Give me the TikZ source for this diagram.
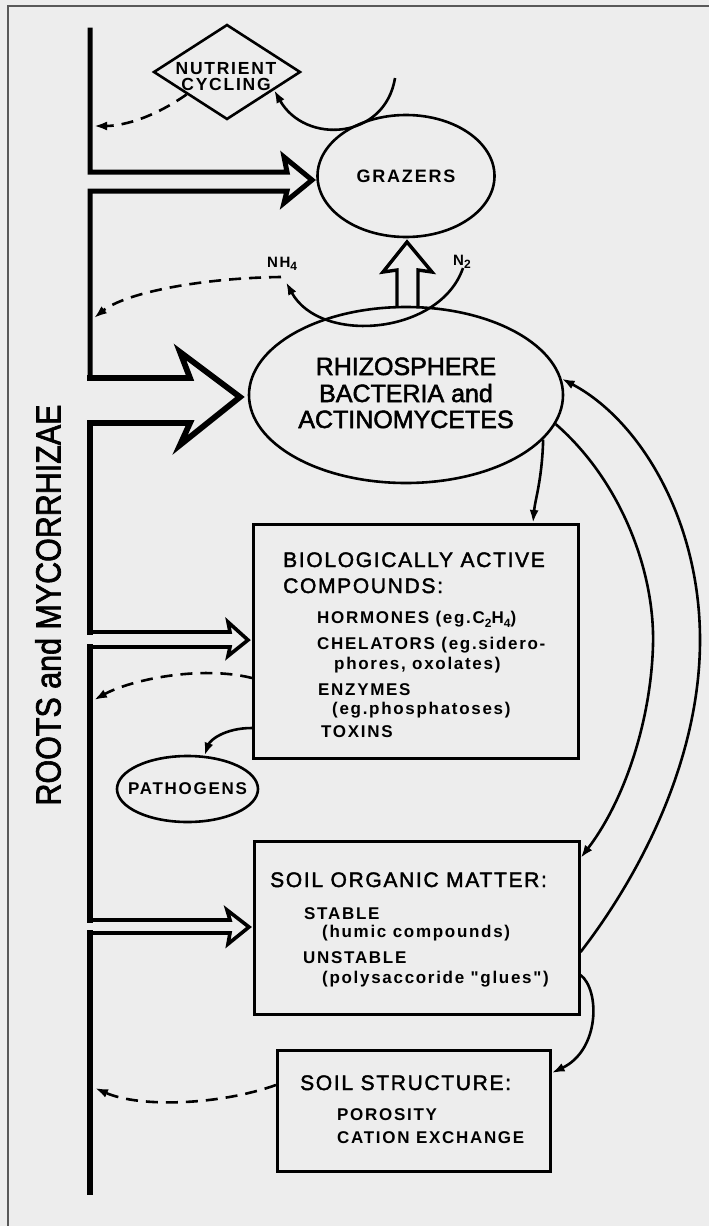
\documentclass[tikz,border=0pt]{standalone}
\usepackage{graphicx}
\usepackage{fontspec}
\setmainfont{Liberation Sans}
\newfontfamily\hfont[LetterSpace=8,FakeBold=2]{Liberation Sans}
\newfontfamily\bfont[FakeBold=2]{Liberation Sans}
\newfontfamily\sfont[LetterSpace=10]{Liberation Sans}
\usetikzlibrary{shapes.geometric,arrows.meta,calc}
\newcommand\lsub[1]{\raisebox{-0.45ex}{\fontsize{12}{12}\selectfont #1}}
\newcommand\smf[1]{\sfont\bfseries\fontsize{#1}{#1}\selectfont}
\begin{document}
\begin{tikzpicture}[x=1pt,y=-1pt,
  ink/.style={draw=black, line width=2.6pt},
  boxnode/.style={ink, rectangle, inner sep=0pt, anchor=north west},
  ellnode/.style={ink, ellipse, inner sep=0pt},
  hd/.style={inner sep=0pt, anchor=base west, font=\hfont\fontsize{21}{21}\selectfont},
  sm/.style={inner sep=0pt, anchor=base west, font=\smf{17}},
  big/.style={inner sep=0pt, anchor=base, font=\bfont\fontsize{25}{25}\selectfont},
  conn/.style={draw=black, line width=2.6pt, -{Latex[length=13pt,width=9pt]}},
  dashconn/.style={conn, dash pattern=on 12pt off 8pt},
  stemline/.style={draw=black, line width=5.5pt, line join=miter, line cap=rect},
  thinarrow/.style={draw=black, line width=3.6pt, line join=miter}
]
\useasboundingbox (0,0) rectangle (709,1226);
\fill[black!7] (0,0) rectangle (709,1226);
\draw[black!65, line width=1.5pt] (8,1226) -- (8,6) -- (709,6);

% ---- nodes ----
\node[ink, diamond, inner sep=0pt, minimum width=147pt, minimum height=95pt] (nc) at (227,72) {};
\node[inner sep=0pt, anchor=base, font=\smf{17.5}] (nct1) at (226,74) {NUTRIENT};
\node[inner sep=0pt, anchor=base, font=\smf{17.5}] (nct2) at (226,90) {CYCLING};

\node[ellnode, minimum width=177pt, minimum height=122pt] (gr) at (406,176) {};
\node[inner sep=0pt, font=\smf{18}] (grt) at (406,176) {GRAZERS};

\node[ellnode, minimum width=314pt, minimum height=176pt] (rh) at (406,395) {};
\node[big] (rht1) at (406,375) {RHIZOSPHERE};
\node[big] (rht2) at (406,402) {BACTERIA and};
\node[big] (rht3) at (406,428) {ACTINOMYCETES};

\node[inner sep=0pt, anchor=base west, font=\smf{15}] (nh4l) at (267,267) {NH\lsub{4}};
\node[inner sep=0pt, anchor=base west, font=\smf{15}] (n2l) at (453,265) {N\lsub{2}};

\node[boxnode, minimum width=325pt, minimum height=234pt] (bac) at (252,523) {};
\node[hd] (b1) at (283,567) {BIOLOGICALLY ACTIVE};
\node[hd] (b2) at (283,593) {COMPOUNDS:};
\node[sm] (b3) at (317,623) {HORMONES (eg.C\lsub{2}H\lsub{4})};
\node[sm] (b4) at (317,649) {CHELATORS (eg.sidero-};
\node[sm] (b5) at (334,669) {phores, oxolates)};
\node[sm] (b6) at (318,695) {ENZYMES};
\node[sm] (b7) at (332,714) {(eg.phosphatoses)};
\node[sm] (b8) at (321,737) {TOXINS};

\node[ellnode, minimum width=141pt, minimum height=66pt] (pa) at (187.5,789) {};
\node[inner sep=0pt, font=\smf{17}] (pat) at (187.5,789) {PATHOGENS};

\node[boxnode, minimum width=325pt, minimum height=173pt] (som) at (253,840) {};
\node[hd] (s1t) at (270,887) {SOIL ORGANIC MATTER:};
\node[sm] (s2t) at (304,919) {STABLE};
\node[sm] (s3t) at (322,937) {(humic compounds)};
\node[sm] (s4t) at (303,963) {UNSTABLE};
\node[sm] (s5t) at (322,983) {(polysaccoride "glues")};

\node[boxnode, minimum width=273pt, minimum height=121pt] (ss) at (276,1049) {};
\node[hd] (ss1) at (300,1090) {SOIL STRUCTURE:};
\node[sm] (ss2) at (337,1120) {POROSITY};
\node[sm] (ss3) at (337,1143) {CATION EXCHANGE};

\node[rotate=90, inner sep=0pt, font=\bfont\fontsize{35}{35}\selectfont] (roots) at (48,605) {\scalebox{0.87}[1]{ROOTS and MYCORRHIZAE}};

% ---- roots stem and block arrows ----
\draw[stemline, line width=5pt] (90,30) -- (90,172) -- (287,172) -- (284,157) -- (312,180) -- (284,203) -- (287,191) -- (90,191) -- (90,378);
\draw[stemline, line width=5.8pt] (90,378) -- (190,378) -- (180,352) -- (240,397) -- (180,445) -- (190,423) -- (90,423) -- (90,632);
\draw[thinarrow] (88,632) -- (230,632) -- (228,622) -- (248,640) -- (228,656) -- (230,647) -- (88,647);
\draw[stemline] (90,647) -- (90,920);
\draw[thinarrow] (88,920) -- (230,920) -- (227,910) -- (249,927) -- (228,944) -- (230,933) -- (88,933);
\draw[stemline] (90,933) -- (90,1192);

% hollow arrow rhizosphere -> grazers
\draw[draw=black, line width=3.4pt, line join=miter] (397,308) -- (397,270) -- (383,272) -- (407,242) -- (432,272) -- (418,270) -- (418,308);

% ---- named free ends ----
\coordinate (gzt) at (395,78);
\coordinate (ncse) at ($(nc.east)!0.37!(nc.south)$);
\coordinate (ncsw) at ($(nc.west)!0.46!(nc.south)$);
\coordinate (st0) at (94,126);
\coordinate (st1) at (94,318);
\coordinate (st3) at (94,700);
\coordinate (st4) at (95,1088);
\coordinate (n2p) at (463,268);
\coordinate (nh4p) at (286,282);
\coordinate (nh4d) at (281,277);

% ---- connectors ----
\draw[conn] (gzt) .. controls (385,140) and (305,145) .. (ncse);
\draw[dashconn] (ncsw) .. controls (150,120) and (120,126) .. (st0);
\draw[conn] (n2p) .. controls (440,335) and (320,345) .. (nh4p);
\draw[dashconn] (nh4d) .. controls (200,278) and (125,293) .. (st1);
\draw[conn] (rh.-18) .. controls (542,480) and (535,500) .. (bac.north -| 533,0);
\draw[conn] (rh.-11) .. controls (620,480) and (655,570) .. (653,645) .. controls (651,720) and (625,800) .. (som.east |- 0,858);
\draw[conn] (som.east |- 0,952) .. controls (640,875) and (700,760) .. (700,640) .. controls (700,520) and (640,420) .. (rh.6);
\draw[conn] (som.east |- 0,975) .. controls (600,990) and (600,1050) .. (ss.east |- 0,1073);
\draw[dashconn] (bac.west |- 0,678) .. controls (200,665) and (130,680) .. (st3);
\draw[conn] (bac.west |- 0,728) .. controls (225,728) and (210,740) .. (pa.63);
\draw[dashconn] (ss.west |- 0,1085) .. controls (220,1105) and (140,1108) .. (st4);
\end{tikzpicture}
\end{document}
